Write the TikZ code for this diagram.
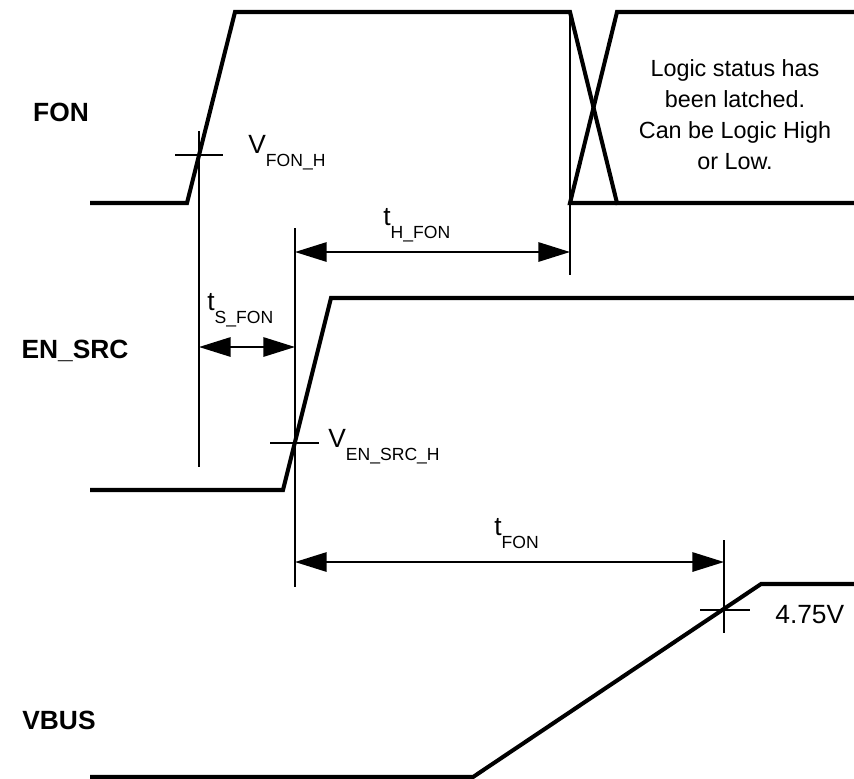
\documentclass[tikz,border=0pt]{standalone}
\usepackage{fontspec}
\setmainfont{Liberation Sans}
\usepackage{tikz}
\usetikzlibrary{arrows.meta,positioning,calc}
\newcommand{\sublab}[2]{#1\raisebox{-7.8pt}{\fontsize{10}{12}\selectfont #2}}

\begin{document}
\begin{tikzpicture}[x=0.02cm,y=-0.02cm,
  wave/.style={line width=2.3pt,line join=miter},
  guide/.style={line width=1.1pt},
  dim/.style={line width=1.1pt,{Triangle[length=18pt,width=11pt]}-{Triangle[length=18pt,width=11pt]}},
  sig/.style={font=\fontsize{15}{18}\selectfont\bfseries,inner sep=0pt},
  lab/.style={font=\fontsize{15}{18}\selectfont,anchor=base west,inner sep=0pt}]
\useasboundingbox (0,0) rectangle (854,778);

% FON waveform
\draw[wave] (90,203) -- (187,203) -- (235,12) -- (570,12) -- (617,203) -- (854,203);
\draw[wave] (617,203) -- (570,203) -- (617,12) -- (854,12);
\node[sig] (fon) at (61,112) {FON};
\node[font=\fontsize{13.3}{17.6}\selectfont,align=center,inner sep=0pt] (latched) at (735,115)
  {Logic status has\\been latched.\\Can be Logic High\\or Low.};

% EN_SRC waveform
\draw[wave] (90,490) -- (283,490) -- (331,298) -- (854,298);
\node[sig] (ensrc) at (75,351) {EN\_SRC};

% VBUS waveform
\draw[wave] (90,777) -- (473,777) -- (761,584) -- (854,584);
\node[sig] (vbus) at (59,720) {VBUS};

% threshold marks and extension lines
\coordinate (fonh) at (199,155);
\coordinate (ensrch) at (295,443);
\coordinate (vbush) at (724,610);
\draw[guide] (175,155) -- (223,155);
\draw[guide] (199,131) -- (199,467);
\draw[guide] (270,443) -- (319,443);
\draw[guide] (295,228) -- (295,587);
\draw[guide] (700,610) -- (750,610);
\draw[guide] (724,540) -- (724,633);
\draw[guide] (570,12) -- (570,275);

% timing arrows
\coordinate (hfonL) at (295,252);
\coordinate (hfonR) at (570,252);
\coordinate (sfonL) at (199,347);
\coordinate (sfonR) at (295,347);
\coordinate (tfonL) at (295,562);
\coordinate (tfonR) at (724,562);
\draw[dim] (hfonL) -- (hfonR);
\draw[dim] (sfonL) -- (sfonR);
\draw[dim] (tfonL) -- (tfonR);

% labels
\node[lab] (lfonh) at (248,153) {\sublab{V}{FON\_H}};
\node[lab] (lhfon) at (383,225) {\sublab{t}{H\_FON}};
\node[lab] (lsfon) at (207,310) {\sublab{t}{S\_FON}};
\node[lab] (lensrch) at (328,447) {\sublab{V}{EN\_SRC\_H}};
\node[lab] (ltfon) at (494,535) {\sublab{t}{FON}};
\node[lab] (lvbus) at (775,623) {4.75V};
\end{tikzpicture}
\end{document}
